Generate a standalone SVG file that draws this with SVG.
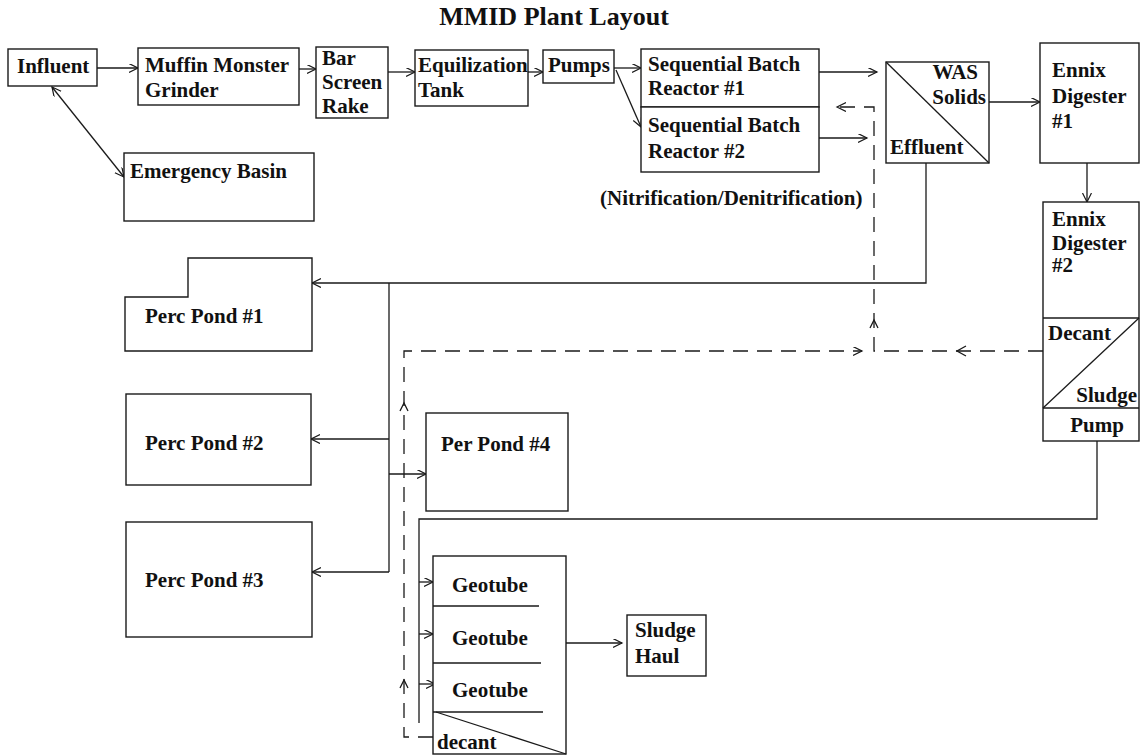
<svg xmlns="http://www.w3.org/2000/svg" width="1140" height="756" viewBox="0 0 1140 756">
<style>
  .box{fill:#fff;stroke:#1a1a1a;stroke-width:1.4}
  .ln{fill:none;stroke:#1a1a1a;stroke-width:1.3}
  .dash{fill:none;stroke:#1a1a1a;stroke-width:1.3;stroke-dasharray:15,9}
  .t{font-family:"Liberation Serif","Times New Roman",serif;font-weight:bold;font-size:21px;fill:#111}
  .title{font-family:"Liberation Serif","Times New Roman",serif;font-weight:bold;font-size:26px;fill:#111}
</style>
<defs>
  <marker id="ah" markerWidth="12" markerHeight="12" refX="9" refY="4.5" orient="auto-start-reverse" markerUnits="userSpaceOnUse">
    <path d="M0,0 L9,4.5 L0,9" fill="none" stroke="#1a1a1a" stroke-width="1.2"/>
  </marker>
</defs>
<rect width="1140" height="756" fill="#fff"/>
<text class="title" x="554" y="25" text-anchor="middle">MMID Plant Layout</text>

<g id="connectors">
  <line class="ln" x1="97" y1="68" x2="138" y2="68" marker-end="url(#ah)"/>
  <line class="ln" x1="299" y1="69" x2="316" y2="69" marker-end="url(#ah)"/>
  <line class="ln" x1="388" y1="72" x2="415" y2="72" marker-end="url(#ah)"/>
  <line class="ln" x1="528" y1="72" x2="543" y2="72" marker-end="url(#ah)"/>
  <line class="ln" x1="614" y1="68" x2="641" y2="68" marker-end="url(#ah)"/>
  <line class="ln" x1="616" y1="70" x2="641" y2="127" marker-end="url(#ah)"/>
  <line class="ln" x1="819" y1="72" x2="877" y2="72" marker-end="url(#ah)"/>
  <line class="ln" x1="817" y1="138" x2="867" y2="138" marker-end="url(#ah)"/>
  <line class="ln" x1="989" y1="102" x2="1040" y2="102" marker-end="url(#ah)"/>
  <line class="ln" x1="1087" y1="163" x2="1087" y2="202" marker-end="url(#ah)"/>
  <line class="ln" x1="52" y1="87" x2="124" y2="177" marker-start="url(#ah)" marker-end="url(#ah)"/>
  <!-- effluent distribution -->
  <polyline class="ln" points="926,163 926,283 312,283" marker-end="url(#ah)"/>
  <line class="ln" x1="389" y1="283" x2="389" y2="572"/>
  <line class="ln" x1="389" y1="439" x2="311" y2="439" marker-end="url(#ah)"/>
  <line class="ln" x1="389" y1="474" x2="426" y2="474" marker-end="url(#ah)"/>
  <line class="ln" x1="389" y1="572" x2="312" y2="572" marker-end="url(#ah)"/>
  <!-- sludge pump line -->
  <polyline class="ln" points="1097,441 1097,519 419,519 419,723"/>
  <line class="ln" x1="419" y1="582" x2="433" y2="582" marker-end="url(#ah)"/>
  <line class="ln" x1="419" y1="634" x2="433" y2="634" marker-end="url(#ah)"/>
  <line class="ln" x1="419" y1="684" x2="435" y2="684" marker-end="url(#ah)"/>
  <line class="ln" x1="566" y1="643" x2="622" y2="643" marker-end="url(#ah)"/>
  <!-- dashed decant returns -->
  <polyline class="dash" points="1043,351 874,351 874,107 837,107" marker-end="url(#ah)"/>
  <polyline class="dash" points="433,737 404,737 404,351 862,351" marker-end="url(#ah)"/>
  <polyline class="ln" points="966,346 957,351 966,356"/>
  <polyline class="ln" points="870,328 874,320 878,328"/>
  <polyline class="ln" points="400,688 404,680 408,688"/>
  <polyline class="ln" points="400,411 404,403 408,411"/>
</g>

<g id="influent"><rect class="box" x="8" y="49" width="89" height="37"/><text class="t" x="17" y="73">Influent</text></g>
<g id="muffin"><rect class="box" x="138" y="48" width="161" height="57"/><text class="t" x="145" y="72">Muffin Monster</text><text class="t" x="145" y="97">Grinder</text></g>
<g id="barscreen"><rect class="box" x="316" y="47" width="72" height="71"/><text class="t" x="322" y="65">Bar</text><text class="t" x="322" y="89">Screen</text><text class="t" x="322" y="113">Rake</text></g>
<g id="equalization"><rect class="box" x="415" y="50" width="113" height="56"/><text class="t" x="418" y="72">Equilization</text><text class="t" x="418" y="97">Tank</text></g>
<g id="pumps"><rect class="box" x="543" y="50" width="71" height="33"/><text class="t" x="548" y="72">Pumps</text></g>
<g id="sbr1"><rect class="box" x="641" y="49" width="178" height="58"/><text class="t" x="648" y="71">Sequential Batch</text><text class="t" x="648" y="95">Reactor #1</text></g>
<g id="sbr2"><rect class="box" x="641" y="107" width="178" height="65"/><text class="t" x="648" y="132">Sequential Batch</text><text class="t" x="648" y="158">Reactor #2</text></g>
<g id="nitrification"><text class="t" x="600" y="205">(Nitrification/Denitrification)</text></g>
<g id="splitter"><rect class="box" x="886" y="62" width="103" height="101"/><line class="ln" x1="886" y1="62" x2="989" y2="163"/><text class="t" x="978" y="79" text-anchor="end">WAS</text><text class="t" x="986" y="104" text-anchor="end">Solids</text><text class="t" x="890" y="154">Effluent</text></g>
<g id="digester1"><rect class="box" x="1040" y="43" width="99" height="120"/><text class="t" x="1052" y="77">Ennix</text><text class="t" x="1052" y="103">Digester</text><text class="t" x="1052" y="128">#1</text></g>
<g id="digester2"><rect class="box" x="1043" y="202" width="96" height="239"/><line class="ln" x1="1043" y1="318" x2="1139" y2="318"/><line class="ln" x1="1043" y1="408" x2="1139" y2="408"/><line class="ln" x1="1043" y1="408" x2="1139" y2="318"/><text class="t" x="1052" y="226">Ennix</text><text class="t" x="1052" y="250">Digester</text><text class="t" x="1052" y="272">#2</text><text class="t" x="1048" y="340">Decant</text><text class="t" x="1137" y="402" text-anchor="end">Sludge</text><text class="t" x="1097" y="432" text-anchor="middle">Pump</text></g>
<g id="emergency"><rect class="box" x="124" y="153" width="190" height="68"/><text class="t" x="130" y="178">Emergency Basin</text></g>
<g id="pond1"><polygon class="box" points="188,258 312,258 312,351 125,351 125,297 188,297"/><text class="t" x="145" y="323">Perc Pond #1</text></g>
<g id="pond2"><rect class="box" x="126" y="394" width="185" height="91"/><text class="t" x="145" y="450">Perc Pond #2</text></g>
<g id="pond3"><rect class="box" x="126" y="522" width="186" height="115"/><text class="t" x="145" y="587">Perc Pond #3</text></g>
<g id="pond4"><rect class="box" x="426" y="413" width="142" height="98"/><text class="t" x="441" y="451">Per Pond #4</text></g>
<g id="geotubes"><rect class="box" x="433" y="556" width="133" height="198"/><line class="ln" x1="433" y1="606" x2="539" y2="606"/><line class="ln" x1="433" y1="663" x2="541" y2="663"/><line class="ln" x1="433" y1="712" x2="543" y2="712"/><line class="ln" x1="436" y1="712" x2="566" y2="754"/><text class="t" x="452" y="592">Geotube</text><text class="t" x="452" y="645">Geotube</text><text class="t" x="452" y="697">Geotube</text><text class="t" x="437" y="749">decant</text></g>
<g id="sludgehaul"><rect class="box" x="627" y="615" width="79" height="61"/><text class="t" x="635" y="637">Sludge</text><text class="t" x="635" y="663">Haul</text></g>
</svg>
